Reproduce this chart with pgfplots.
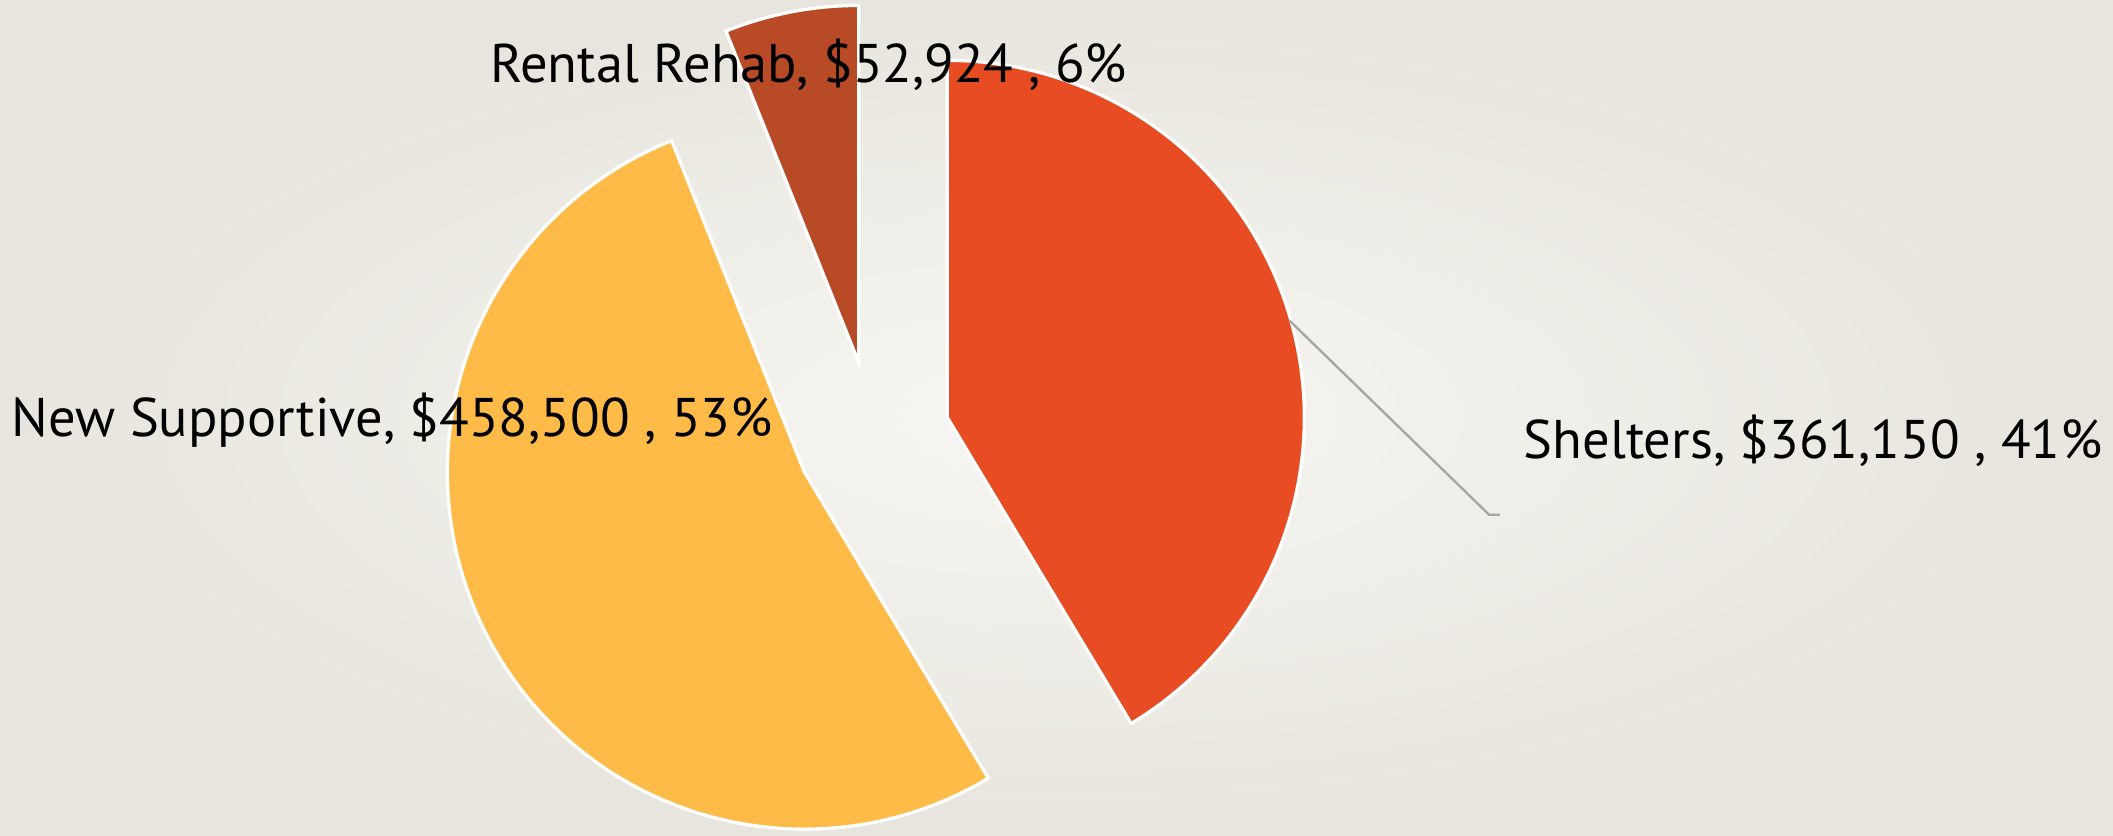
\documentclass[border=0pt]{standalone}
\usepackage{pgfplots}
\pgfplotsset{compat=1.18}
\usepackage{pgfplotstable}
\usepackage{fontspec}
\setmainfont{PT Sans}
\definecolor{shelt}{HTML}{E84C22}
\definecolor{newsup}{HTML}{FFBB48}
\definecolor{rehab}{HTML}{B94A26}
\definecolor{bgin}{HTML}{F7F6F2}
\definecolor{bgout}{HTML}{E7E5DD}

\pgfplotstableread{
name value
Shelters 361150
NewSupportive 458500
RentalRehab 52924
}\piedata

\pgfplotstablegetelem{0}{value}\of\piedata \edef\vA{\pgfplotsretval}
\pgfplotstablegetelem{1}{value}\of\piedata \edef\vB{\pgfplotsretval}
\pgfplotstablegetelem{2}{value}\of\piedata \edef\vC{\pgfplotsretval}
\edef\tot{\fpeval{\vA+\vB+\vC}}
% slice boundaries, clockwise from 12 o'clock
\edef\aA{90}
\edef\aB{\fpeval{round(\aA-360*\vA/\tot,3)}}
\edef\aC{\fpeval{round(\aB-360*\vB/\tot,3)}}
\edef\aD{\fpeval{round(\aC-360*\vC/\tot,3)}}
% pie centre, radius, explosion
\def\cx{648}\def\cy{295}\def\rr{265}\def\dd{57}
\newcommand\slice[3]{%
  \pgfmathsetmacro\bis{(#1+#2)/2}%
  \pgfmathsetmacro\ox{\cx+\dd*cos(\bis)}%
  \pgfmathsetmacro\oy{\cy+\dd*sin(\bis)}%
  \edef\temp{\noexpand\addplot[fill=#3, draw=white, line width=0.7pt, domain=#1:#2, samples=150, variable=\noexpand\t]
    ({\ox+\rr*cos(\noexpand\t)},{\oy+\rr*sin(\noexpand\t)}) -- (\ox,\oy) -- cycle;}%
  \temp}
\tikzset{lbl/.style={font=\fontsize{11.5}{13}\selectfont, inner sep=0pt}}

\begin{document}
\begin{tikzpicture}
\begin{axis}[
    width=15.68cm, height=6.2cm, scale only axis,
    xmin=0, xmax=1568, ymin=0, ymax=620,
    hide axis, clip=false,
]
\shade[inner color=bgin, outer color=bgout] (0,0) rectangle (1568,620);
\coordinate (SW) at (0,0);
\coordinate (NE) at (1568,620);
\slice{\aB}{\aA}{shelt}
\slice{\aC}{\aB}{newsup}
\slice{\aD}{\aC}{rehab}
\draw[gray!70, line width=0.5pt] (957,382) -- (1105,238) -- (1113,238);
\node[lbl, anchor=west] at (1130,293) {Shelters, \$361,150 , 41\%};
\node[lbl, anchor=west] at (8,308) {New Supportive, \$458,500 , 53\%};
\node[lbl, anchor=center] at (600,572) {Rental Rehab, \$52,924 , 6\%};
\end{axis}
\pgfresetboundingbox
\path[use as bounding box] (SW) rectangle (NE);
\end{tikzpicture}
\end{document}
